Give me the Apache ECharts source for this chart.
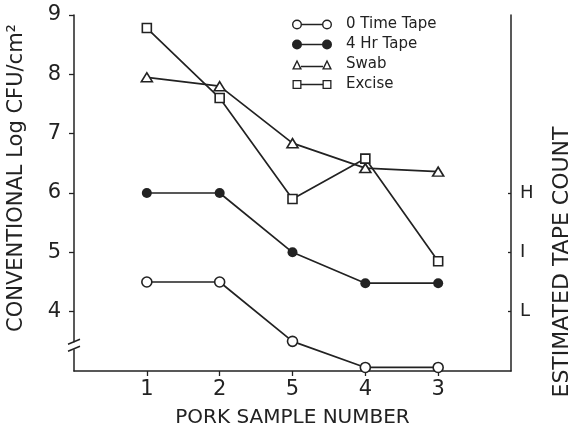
<!DOCTYPE html>
<html>
<head>
<meta charset="utf-8">
<script src="https://cdn.jsdelivr.net/npm/echarts@6/dist/echarts.min.js"></script>
<style>
html,body{margin:0;padding:0;background:#fff;}
#c{width:572px;height:433px;}
</style>
</head>
<body>
<div id="c"></div>
<script>
// ---- data ----
const categories = ['1', '2', '5', '4', '3'];
const zeroTimeTape = [4.5, 4.5, 3.5, 3.06, 3.06];
const fourHrTape = [6.0, 6.0, 5.0, 4.48, 4.48];
const swab = [7.95, 7.8, 6.84, 6.42, 6.36];
const excise = [8.78, 7.6, 5.9, 6.58, 4.85];
const leftTickValues = [4, 5, 6, 7, 8, 9];
const tapeTickValues = [4, 5, 6];
const tapeTickLabels = ['L', 'I', 'H'];
const seriesNames = ['0 Time Tape', '4 Hr Tape', 'Swab', 'Excise'];

const INK = '#222';
const FONT = 'DejaVu Sans';

function toPoints(vals) { return vals.map((v, i) => [i + 1, v]); }
const catPositions = categories.map((c, i) => i + 1);

// legend icons (line with marker at both ends)
const ringL = 'M0 5 A5 5 0 1 1 10 5 A5 5 0 1 1 0 5 Z M1.4 5 A3.6 3.6 0 1 0 8.6 5 A3.6 3.6 0 1 0 1.4 5 Z';
const ringR = 'M30 5 A5 5 0 1 1 40 5 A5 5 0 1 1 30 5 Z M31.4 5 A3.6 3.6 0 1 0 38.6 5 A3.6 3.6 0 1 0 31.4 5 Z';
const dotL = 'M0 5 A5 5 0 1 1 10 5 A5 5 0 1 1 0 5 Z';
const dotR = 'M30 5 A5 5 0 1 1 40 5 A5 5 0 1 1 30 5 Z';
const midLine = 'M9.5 4.2 L30.5 4.2 L30.5 5.8 L9.5 5.8 Z';
const triL = 'M0 10 L5 0 L10 10 Z M2.3 8.8 L7.7 8.8 L5 3.1 Z';
const triR = 'M30 10 L35 0 L40 10 Z M32.3 8.8 L37.7 8.8 L35 3.1 Z';
const triLine = 'M9 6.2 L31 6.2 L31 7.8 L9 7.8 Z';
const sqL = 'M0.5 0.5 L9.5 0.5 L9.5 9.5 L0.5 9.5 Z M1.8 1.8 L1.8 8.2 L8.2 8.2 L8.2 1.8 Z';
const sqR = 'M30.5 0.5 L39.5 0.5 L39.5 9.5 L30.5 9.5 Z M31.8 1.8 L31.8 8.2 L38.2 8.2 L38.2 1.8 Z';
const sqLine = 'M9.5 4.2 L30.5 4.2 L30.5 5.8 L9.5 5.8 Z M0 0 L0 0.01 Z M40 10 L40 9.99 Z';
const icons = [
  'path://' + ringL + ' ' + midLine + ' ' + ringR,
  'path://' + dotL + ' ' + midLine + ' ' + dotR,
  'path://' + triL + ' ' + triLine + ' ' + triR,
  'path://' + sqL + ' ' + sqLine + ' ' + sqR
];

const hollow = { color: '#fff', borderColor: INK, borderWidth: 1.6 };
const solid = { color: INK, borderColor: INK, borderWidth: 0 };
const lineStyle = { color: INK, width: 1.7 };

const chart = echarts.init(document.getElementById('c'), null, { renderer: 'canvas' });

const option = {
  animation: false,
  backgroundColor: '#fff',
  grid: { left: 74, right: 61, top: 15, bottom: 61 },
  legend: {
    orient: 'vertical',
    left: 292,
    top: 17,
    padding: 0,
    itemWidth: 40,
    itemHeight: 10,
    itemGap: 5,
    selectedMode: false,
    textStyle: { fontFamily: FONT, fontSize: 15, color: INK, padding: [0, 0, 0, 9], lineHeight: 15 },
    itemStyle: { color: INK, borderWidth: 0 },
    data: seriesNames.map((n, i) => ({ name: n, icon: icons[i], itemStyle: { color: INK, borderWidth: 0 } }))
  },
  xAxis: {
    type: 'value',
    min: 0,
    max: 6,
    interval: 1,
    splitLine: { show: false },
    axisLine: { lineStyle: { color: INK, width: 1.5 } },
    axisTick: { customValues: catPositions, length: 5, lineStyle: { color: INK, width: 1.3 } },
    axisLabel: {
      customValues: catPositions,
      formatter: v => categories[v - 1] || '',
      margin: 8,
      fontFamily: FONT, fontSize: 21, color: INK
    },
    name: 'PORK SAMPLE NUMBER',
    nameLocation: 'middle',
    nameGap: 37,
    nameTextStyle: { fontFamily: FONT, fontSize: 20, color: INK }
  },
  yAxis: [
    {
      type: 'value',
      position: 'left',
      min: 3,
      max: 9,
      interval: 1,
      splitLine: { show: false },
      axisLine: { show: true, lineStyle: { color: INK, width: 1.5 } },
      axisTick: { show: true, customValues: leftTickValues, length: 5, lineStyle: { color: INK, width: 1.3 } },
      axisLabel: {
        customValues: leftTickValues,
        margin: 13,
        fontFamily: FONT, fontSize: 21, color: INK
      }
    },
    {
      type: 'value',
      position: 'right',
      min: 3,
      max: 9,
      interval: 1,
      splitLine: { show: false },
      axisLine: { show: true, lineStyle: { color: INK, width: 1.5 } },
      axisTick: { show: true, inside: true, customValues: tapeTickValues, length: 3, lineStyle: { color: INK, width: 1.3 } },
      axisLabel: {
        customValues: tapeTickValues,
        formatter: v => tapeTickLabels[tapeTickValues.indexOf(v)] || '',
        margin: 9,
        fontFamily: FONT, fontSize: 18, color: INK
      }
    }
  ],
  series: [
    { name: seriesNames[0], type: 'line', data: toPoints(zeroTimeTape), symbol: 'circle', symbolSize: 10, itemStyle: hollow, lineStyle: lineStyle, z: 2 },
    { name: seriesNames[1], type: 'line', data: toPoints(fourHrTape), symbol: 'circle', symbolSize: 10, itemStyle: solid, lineStyle: lineStyle, z: 3 },
    { name: seriesNames[2], type: 'line', data: toPoints(swab), symbol: 'triangle', symbolSize: [11, 9], itemStyle: hollow, lineStyle: lineStyle, z: 4 },
    { name: seriesNames[3], type: 'line', data: toPoints(excise), symbol: 'rect', symbolSize: 9, itemStyle: hollow, lineStyle: lineStyle, z: 5 }
  ]
};
chart.setOption(option);

// axis titles (vertical) and the axis-break mark on the left axis
const pBreak = chart.convertToPixel({ yAxisIndex: 0 }, 3.4);
const pAxisX = chart.convertToPixel({ xAxisIndex: 0 }, 0);
chart.setOption({
  graphic: [
    {
      type: 'text', x: 17, y: 178, rotation: Math.PI / 2,
      style: { text: 'CONVENTIONAL Log CFU/cm²', font: '21px "DejaVu Sans"', fill: INK, align: 'center', verticalAlign: 'middle' }
    },
    {
      type: 'text', x: 562, y: 262, rotation: Math.PI / 2,
      style: { text: 'ESTIMATED TAPE COUNT', font: '22px "DejaVu Sans"', fill: INK, align: 'center', verticalAlign: 'middle' }
    },
    { type: 'rect', shape: { x: pAxisX - 3, y: pBreak - 5, width: 6, height: 7 }, style: { fill: '#fff' }, z: 100 },
    { type: 'line', shape: { x1: pAxisX - 6, y1: pBreak - 3, x2: pAxisX + 6, y2: pBreak - 8 }, style: { stroke: INK, lineWidth: 1.4 }, z: 101 },
    { type: 'line', shape: { x1: pAxisX - 6, y1: pBreak + 4, x2: pAxisX + 6, y2: pBreak - 1 }, style: { stroke: INK, lineWidth: 1.4 }, z: 101 }
  ]
});
</script>
</body>
</html>
